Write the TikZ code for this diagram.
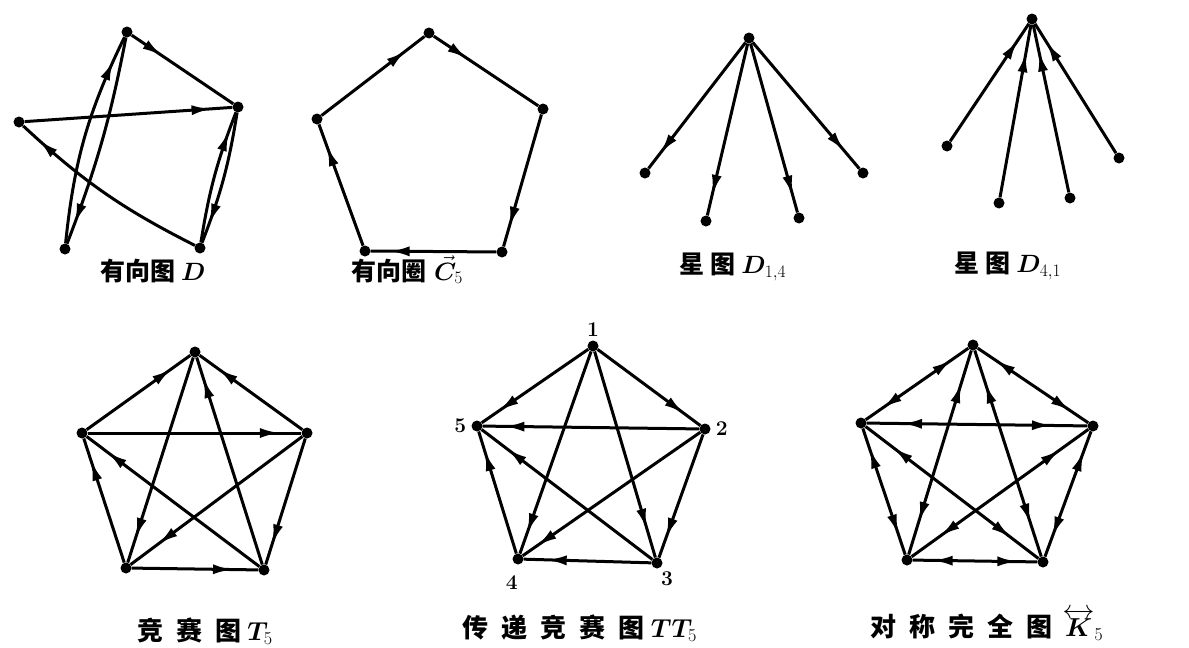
\RequirePackage{fix-cm}
\documentclass[tikz,border=0pt]{standalone}
\usepackage{amsmath}
\usepackage{bm}
\usepackage{fontspec}
\newfontfamily\cjk{Noto Sans CJK SC}
\usetikzlibrary{arrows.meta,decorations.markings,positioning}
\newcommand{\cgap}{\hspace{13pt}}

\begin{document}
\begin{tikzpicture}[x=1pt, y=-1pt,
        dot/.style={circle, fill=black, inner sep=0pt, minimum size=11pt},
        edge/.style={line width=3pt},
        dart/.style={edge, postaction={decorate, decoration={markings, mark=at position #1 with {\arrow{Latex[length=20pt,width=10pt]}}}}},
        twodart/.style={edge, postaction={decorate, decoration={markings,
            mark=at position 0.16 with {\arrowreversed{Latex[length=20pt,width=10pt]}},
            mark=at position 0.84 with {\arrow{Latex[length=20pt,width=10pt]}}}}},
        figcap/.style={font=\cjk\bfseries\fontsize{25}{29}\selectfont, inner sep=0pt},
        bigcap/.style={font=\cjk\bfseries\fontsize{26}{30}\selectfont, inner sep=0pt},
        num/.style={font=\bfseries\fontsize{21}{24}\selectfont, inner sep=0pt},
      ]
      \useasboundingbox (0,0) rectangle (1189,648);
      % directed graph D
      \node [dot] (dt) at (127,32) {};
      \node [dot] (dr) at (238,107) {};
      \node [dot] (dl) at (19,122) {};
      \node [dot] (dbl) at (65,249) {};
      \node [dot] (dbr) at (200,248) {};
      \draw [dart=0.3] (dt) -- (dr);
      \draw [dart=0.9] (dl) -- (dr);
      \draw [dart=0.9] (dbr) to [bend left=8] (dl);
      \draw [dart=0.88] (dbl) to [bend left=10] (dt);
      \draw [dart=0.9] (dt) to [bend left=5] (dbl);
      \draw [dart=0.85] (dbr) to [bend left=6] (dr);
      \draw [dart=0.85] (dr) to [bend left=6] (dbr);
      \node [figcap] (capd) at (153,271) {有向图 $\bm{D}$};
      % directed cycle C5
      \node [dot] (ct) at (429,33) {};
      \node [dot] (cr) at (543,109) {};
      \node [dot] (cl) at (317,119) {};
      \node [dot] (cbl) at (365,251) {};
      \node [dot] (cbr) at (502,252) {};
      \draw [dart=0.82] (cl) -- (ct);
      \draw [dart=0.32] (ct) -- (cr);
      \draw [dart=0.85] (cr) -- (cbr);
      \draw [dart=0.85] (cbr) -- (cbl);
      \draw [dart=0.82] (cbl) -- (cl);
      \node [figcap] (capc) at (407,270) {有向圈\hspace{8pt}$\vec{\bm{C}}_5$};
      % star D_{1,4}
      \node [dot] (sa) at (749,38) {};
      \node [dot] (sa1) at (645,173) {};
      \node [dot] (sa2) at (706,221) {};
      \node [dot] (sa3) at (799,218) {};
      \node [dot] (sa4) at (863,173) {};
      \draw [dart=0.88] (sa) -- (sa1);
      \draw [dart=0.88] (sa) -- (sa2);
      \draw [dart=0.9] (sa) -- (sa3);
      \draw [dart=0.86] (sa) -- (sa4);
      \node [figcap] (capsa) at (733,267) {星\hspace{6pt}图 $\bm{D}_{1,4}$};
      % star D_{4,1}
      \node [dot] (sb) at (1032,19) {};
      \node [dot] (sb1) at (947,146) {};
      \node [dot] (sb2) at (999,203) {};
      \node [dot] (sb3) at (1070,198) {};
      \node [dot] (sb4) at (1119,158) {};
      \draw [dart=0.86] (sb1) -- (sb);
      \draw [dart=0.84] (sb2) -- (sb);
      \draw [dart=0.84] (sb3) -- (sb);
      \draw [dart=0.86] (sb4) -- (sb);
      \node [figcap] (capsb) at (1008,266) {星\hspace{6pt}图 $\bm{D}_{4,1}$};
      % tournament T5
      \node [dot] (tt) at (195,352) {};
      \node [dot] (tr) at (307,433) {};
      \node [dot] (tl) at (82,433) {};
      \node [dot] (tbl) at (126,568) {};
      \node [dot] (tbr) at (264,570) {};
      \draw [dart=0.82] (tl) -- (tt);
      \draw [dart=0.82] (tr) -- (tt);
      \draw [dart=0.9] (tl) -- (tr);
      \draw [dart=0.88] (tt) -- (tbl);
      \draw [dart=0.9] (tbr) -- (tt);
      \draw [dart=0.82] (tbl) -- (tl);
      \draw [dart=0.88] (tbr) -- (tl);
      \draw [dart=0.84] (tr) -- (tbl);
      \draw [dart=0.8] (tbl) -- (tbr);
      \draw [dart=0.84] (tr) -- (tbr);
      \node [bigcap] (capt) at (205,631) {竞\cgap 赛\cgap 图 $\bm{T}_5$};
      % transitive tournament TT5
      \node [dot] (n1) at (593,346) {};
      \node [dot] (n2) at (705,429) {};
      \node [dot] (n3) at (657,563) {};
      \node [dot] (n4) at (518,559) {};
      \node [dot] (n5) at (477,426) {};
      \node [num, above=4pt of n1] {1};
      \node [num, right=5pt of n2] {2};
      \node [num, below right=4pt and 0pt of n3] {3};
      \node [num, below left=12pt and -4pt of n4] {4};
      \node [num, left=5pt of n5] {5};
      \draw [dart=0.84] (n1) -- (n2);
      \draw [dart=0.86] (n1) -- (n3);
      \draw [dart=0.9] (n1) -- (n4);
      \draw [dart=0.84] (n1) -- (n5);
      \draw [dart=0.84] (n2) -- (n3);
      \draw [dart=0.92] (n2) -- (n4);
      \draw [dart=0.9] (n2) -- (n5);
      \draw [dart=0.82] (n3) -- (n4);
      \draw [dart=0.85] (n3) -- (n5);
      \draw [dart=0.84] (n4) -- (n5);
      \node [bigcap] (captt) at (580,628) {传\cgap 递\cgap 竞\cgap 赛\cgap 图 $\bm{TT}_5$};
      % symmetric complete K5
      \node [dot] (kt) at (973,345) {};
      \node [dot] (kr) at (1093,426) {};
      \node [dot] (kl) at (861,423) {};
      \node [dot] (kbl) at (907,560) {};
      \node [dot] (kbr) at (1043,562) {};
      \draw [twodart] (kt) -- (kr);
      \draw [twodart] (kt) -- (kl);
      \draw [twodart] (kt) -- (kbl);
      \draw [twodart] (kt) -- (kbr);
      \draw [twodart] (kl) -- (kr);
      \draw [twodart] (kl) -- (kbl);
      \draw [twodart] (kl) -- (kbr);
      \draw [twodart] (kr) -- (kbl);
      \draw [twodart] (kr) -- (kbr);
      \draw [twodart] (kbl) -- (kbr);
      \node [bigcap] (capk) at (987,625) {对\cgap 称\cgap 完\cgap 全\cgap 图\hspace{10pt}$\overleftrightarrow{\bm{K}}_5$};
    \end{tikzpicture}
\end{document}
